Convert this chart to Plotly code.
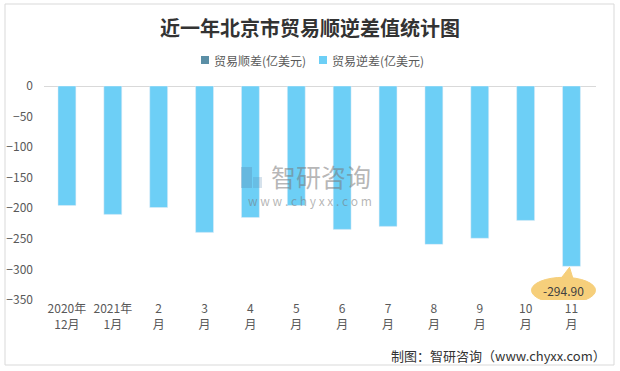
import plotly.graph_objects as go

categories = ["2020年<br>12月", "2021年<br>1月", "2<br>月", "3<br>月", "4<br>月", "5<br>月",
              "6<br>月", "7<br>月", "8<br>月", "9<br>月", "10<br>月", "11<br>月"]
surplus = [None] * 12
deficit = [-195.4, -210.0, -198.7, -239.4, -215.0, -195.4,
           -234.5, -229.6, -259.0, -249.0, -219.9, -294.9]
y_ticks = [0, -50, -100, -150, -200, -250, -300, -350]
series_names = ["贸易顺差(亿美元)", "贸易逆差(亿美元)"]
series_colors = ["#5B8FA6", "#6DCFF6"]

FONT = "Noto Sans CJK SC"
L, R, T, B = 44, 24, 86, 71
W, H = 620, 371
pw, ph = W - L - R, H - T - B

def px(x):
    return (x - L) / pw

def py(y):
    return (H - B - y) / ph

fig = go.Figure()
fig.add_trace(go.Bar(x=categories, y=surplus, name=series_names[0], marker_color=series_colors[0]))
fig.add_trace(go.Bar(x=categories, y=deficit, name=series_names[1], marker_color=series_colors[1]))

last_cat = categories[-1]
last_val = deficit[-1]

shapes = [
    dict(type="rect", xref="paper", yref="paper", x0=px(5), x1=px(614), y0=py(365), y1=py(4),
         line=dict(color="#D9D9D9", width=1), fillcolor="rgba(0,0,0,0)", layer="below"),
    # callout pointer
    dict(type="path", xref="x", yref="y", xsizemode="pixel", ysizemode="pixel",
         xanchor=last_cat, yanchor=last_val,
         path="M -2,-1 L -12,-14 L 2,-14 Z",
         fillcolor="#F6CF7B", line=dict(color="#F6CF7B", width=1)),
    # callout ellipse
    dict(type="circle", xref="x", yref="y", xsizemode="pixel", ysizemode="pixel",
         xanchor=last_cat, yanchor=last_val, x0=-40, x1=24, y0=-37, y1=-11,
         fillcolor="#F6CF7B", line=dict(color="#F6CF7B", width=1)),
    # watermark logo
    dict(type="rect", xref="paper", yref="paper", x0=px(241), x1=px(252), y0=py(188), y1=py(167),
         fillcolor="rgba(90,140,180,0.35)", line=dict(width=0)),
    dict(type="rect", xref="paper", yref="paper", x0=px(253), x1=px(262), y0=py(188), y1=py(177),
         fillcolor="rgba(90,140,180,0.25)", line=dict(width=0)),
]

annotations = [
    dict(text="<b>近一年北京市贸易顺逆差值统计图</b>", xref="paper", yref="paper",
         x=px(310), y=py(27), xanchor="center", yanchor="middle", showarrow=False,
         font=dict(size=20, color="#333333", family=FONT)),
    dict(text="-294.90", xref="x", yref="y", x=last_cat, y=last_val, xshift=-8, yshift=-24,
         showarrow=False, font=dict(size=12, color="#404040", family=FONT)),
    dict(text="智研咨询", xref="paper", yref="paper", x=px(269), y=py(176), xanchor="left",
         yanchor="middle", showarrow=False, font=dict(size=25, color="rgba(120,120,120,0.55)", family=FONT)),
    dict(text="w w w . c h y x x . c o m", xref="paper", yref="paper", x=px(310), y=py(200),
         xanchor="center", yanchor="middle", showarrow=False,
         font=dict(size=12, color="rgba(120,120,120,0.55)", family=FONT)),
    dict(text="制图：智研咨询（www.chyxx.com）", xref="paper", yref="paper", x=px(608), y=py(355),
         xanchor="right", yanchor="middle", showarrow=False,
         font=dict(size=13, color="#333333", family=FONT)),
]

# manual legend
legend_x = [205, 323]
for name, color, lx in zip(series_names, series_colors, legend_x):
    shapes.append(dict(type="rect", xref="paper", yref="paper", x0=px(lx - 4), x1=px(lx + 4),
                       y0=py(64), y1=py(56), fillcolor=color, line=dict(width=0)))
    annotations.append(dict(text=name, xref="paper", yref="paper", x=px(lx + 7), y=py(60),
                            xanchor="left", yanchor="middle", showarrow=False,
                            font=dict(size=12, color="#595959", family=FONT)))

fig.update_layout(
    width=W, height=H,
    margin=dict(l=L, r=R, t=T, b=B, autoexpand=False),
    paper_bgcolor="white", plot_bgcolor="white",
    barmode="relative", bargap=0.61,
    showlegend=False,
    font=dict(family=FONT, color="#595959"),
    shapes=shapes,
    annotations=annotations,
)
fig.update_xaxes(type="category", showgrid=False, showline=False, ticks="",
                 tickfont=dict(size=12, color="#595959", family=FONT))
fig.update_yaxes(range=[-350, 0], tickvals=y_ticks, showgrid=False, showline=False,
                 zeroline=True, zerolinecolor="#D9D9D9", zerolinewidth=1,
                 ticks="", ticklabelstandoff=10,
                 tickfont=dict(size=12, color="#595959", family=FONT))

fig.write_html("out.html", config={"displayModeBar": False},
               post_script="document.body.style.margin='0';")
